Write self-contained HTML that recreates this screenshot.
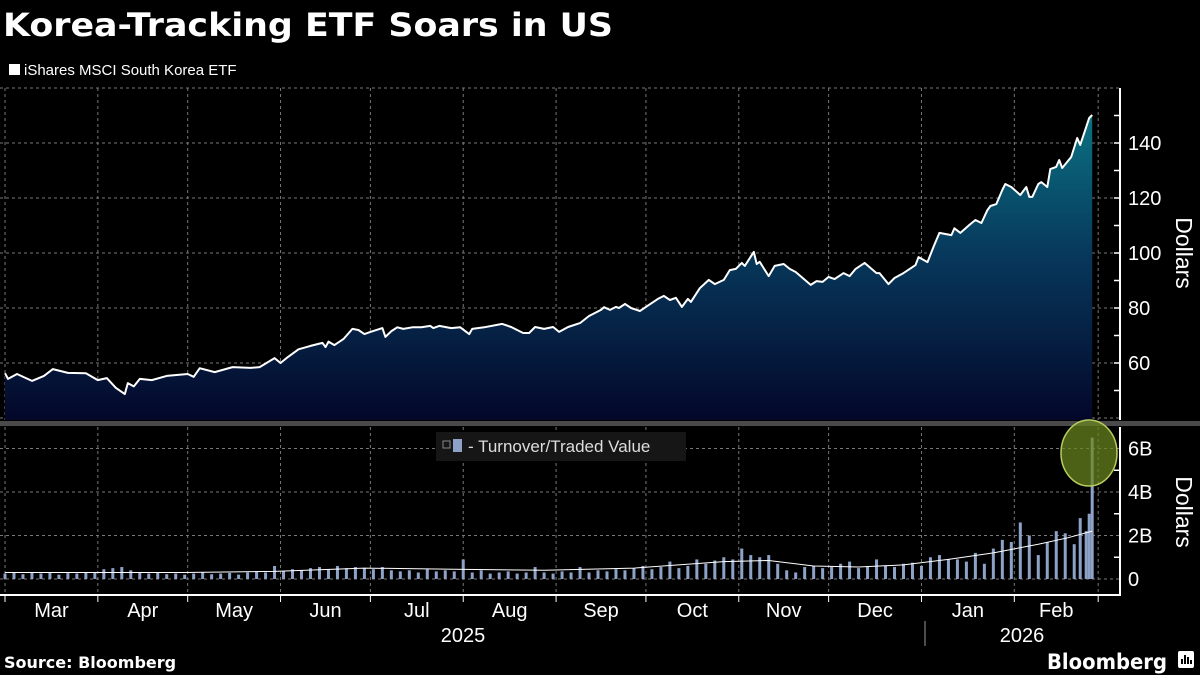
<!DOCTYPE html>
<html><head><meta charset="utf-8">
<style>
html,body{margin:0;padding:0;background:#000;}
svg{display:block;font-family:"Liberation Sans",sans-serif;}
</style></head>
<body>
<svg id="chart" width="1200" height="675" viewBox="0 0 1200 675" xmlns="http://www.w3.org/2000/svg">
<defs>
<linearGradient id="fillGrad" gradientUnits="userSpaceOnUse" x1="0" y1="115" x2="0" y2="420">
<stop offset="0" stop-color="#0b7282"/>
<stop offset="0.45" stop-color="#07395c"/>
<stop offset="1" stop-color="#03072a"/>
</linearGradient>
</defs>
<rect x="0" y="0" width="1200" height="675" fill="#000"/>
<text x="3" y="36" fill="#fff" font-family="DejaVu Sans, sans-serif" font-weight="bold" font-size="32" textLength="610" lengthAdjust="spacingAndGlyphs">Korea-Tracking ETF Soars in US</text>
<rect x="9" y="64" width="11" height="11" fill="#fff"/>
<text x="24" y="75" fill="#fff" font-size="15">iShares MSCI South Korea ETF</text>
<g id="grid"></g>
<g id="price"></g>
<rect x="0" y="421" width="1200" height="5" fill="#4a4a4a"/>
<g id="vol"></g>
<g id="axes"></g>
<rect x="436" y="432" width="250" height="29" fill="#161616"/>
<rect x="443" y="441" width="7" height="7" fill="none" stroke="#888" stroke-width="1"/>
<rect x="453" y="439" width="9" height="13" fill="#8ea2c8"/>
<text x="468" y="452" fill="#ddd" font-size="17">- Turnover/Traded Value</text>
<ellipse cx="1089" cy="453" rx="28" ry="33" fill="rgba(105,135,30,0.72)" stroke="#b8cc60" stroke-width="1.5"/>
<text x="4" y="668" fill="#fff" font-family="DejaVu Sans, sans-serif" font-weight="bold" font-size="16">Source: Bloomberg</text>
<text x="1047" y="669" fill="#fff" font-family="DejaVu Sans, sans-serif" font-weight="bold" font-size="21" textLength="120" lengthAdjust="spacingAndGlyphs">Bloomberg</text>
<rect x="1178" y="651" width="16" height="17" rx="2" fill="#fff"/>
<path d="M1182 664V659M1185 664V655M1188 664V657M1191 664V660" stroke="#000" stroke-width="2"/>
</svg>
<script>
// Days since 2025-03-01
const priceDays=[0,1,4,9,13,16,21,27,31,34,37,40,41,43,45,49,54,61,63,65,70,76,82,85,90,92,94,98,102,106,107,108,110,113,116,118,120,122,126,127,129,131,133,136,139,142,143,145,149,152,155,156,160,166,169,173,175,177,180,183,185,188,192,195,199,200,202,204,205,207,209,212,214,218,220,222,224,226,228,229,232,235,237,240,242,244,246,247,250,251,252,255,257,260,262,264,269,271,273,275,277,280,282,284,287,291,292,295,297,300,304,305,308,310,312,316,317,319,322,324,326,328,329,331,333,334,336,339,341,342,343,345,346,348,349,351,352,353,356,358,359,361,362,363];
const priceValues=[56.3,54.2,56,53.5,55.3,57.8,56.4,56.3,53.8,54.5,51,48.7,52.7,51.5,54.2,53.8,55.3,56,55,58.1,56.7,58.5,58.2,58.5,61.8,60,61.8,65,66.2,67.3,65.8,67.8,66.5,68.7,72.4,72,70.5,71.3,72.7,69.5,71.6,73,72.4,73,73,73.5,72.7,73.5,72.7,73,70.5,72.4,73,74.2,73.1,70.9,70.9,73.1,72.4,73.1,71.3,73.1,74.5,77.1,79.3,80.3,79.3,80.4,80,81.5,80,78.9,80.4,83.3,84.4,82.9,83.7,80.4,83.3,82.2,87.2,90.2,88.7,90.2,93.8,94.2,96.4,95.3,100.4,96,96.8,91.6,95.3,96,94.2,93.1,88.4,89.8,89.5,91.3,90.5,92.7,91.6,94.2,96.4,92.7,92.7,88.7,90.9,92.7,95.6,98.5,96.7,102.2,107.3,106.5,109,107.3,110.2,112,110.9,115.6,117.1,117.8,122.9,125.1,124,121.1,124,120.4,120.4,125.1,125.8,124,130.5,131.3,133.8,130.9,134.9,141.8,139.3,145.8,149.1,150.2];
const priceTicks=[60,80,100,120,140];
const volValues=[.25,.3,.22,.28,.25,.3,.2,.27,.25,.3,
.28,.45,.5,.55,.4,.3,.25,.28,.22,.25,
.2,.25,.3,.22,.25,.28,.2,.3,.35,.3,
.6,.35,.45,.4,.5,.55,.45,.6,.5,.55,
.5,.45,.55,.4,.35,.4,.3,.45,.35,.4,
.35,.9,.3,.4,.25,.3,.35,.25,.3,.55,
.3,.25,.35,.3,.55,.3,.4,.35,.45,.4,
.5,.6,.45,.55,.8,.5,.6,.9,.7,.85,
1.0,.9,1.4,1.1,1.0,1.1,.7,.4,.3,.55,
.6,.5,.55,.7,.8,.5,.6,.9,.6,.55,
.7,.75,.6,1.0,1.1,.9,.9,.8,1.2,.7,
1.4,1.8,1.7,2.6,2.0,1.1,1.7,2.2,2.1,1.6,
2.8,2.2,3.0,6.5];
const volDays=[0,3,6,9,12,15,18,21,24,27,30,33,36,39,42,45,48,51,54,57,60,63,66,69,72,75,78,81,84,87,90,93,96,99,102,105,108,111,114,117,120,123,126,129,132,135,138,141,144,147,150,153,156,159,162,165,168,171,174,177,180,183,186,189,192,195,198,201,204,207,210,213,216,219,222,225,228,231,234,237,240,243,246,249,252,255,258,261,264,267,270,273,276,279,282,285,288,291,294,297,300,303,306,309,312,315,318,321,324,327,330,333,336,339,342,345,348,351,354,357,359,361,362,363];
const maDays=[0,30,60,90,120,150,180,210,240,255,270,285,300,315,330,345,355,363];
const maValues=[.3,.3,.3,.35,.5,.45,.4,.5,.8,.85,.6,.55,.65,.9,1.2,1.6,1.9,2.2];
const volTicks=[0,2,4,6];
const volTickLabels=["0","2B","4B","6B"];
const monthDays=[0,31,61,92,122,153,184,214,245,275,306,337,365];
const monthLabels=["Mar","Apr","May","Jun","Jul","Aug","Sep","Oct","Nov","Dec","Jan","Feb"];

const NS="http://www.w3.org/2000/svg";
const xOf=d=>5+d*2.995;
const yP=v=>143+(140-v)*2.75;
const yV=v=>579-v*21.75;
function mk(tag,attrs,parent){const e=document.createElementNS(NS,tag);for(const k in attrs)e.setAttribute(k,attrs[k]);parent.appendChild(e);return e;}
const grid=document.getElementById('grid'),price=document.getElementById('price'),vol=document.getElementById('vol'),axes=document.getElementById('axes');
const gs={stroke:"#777","stroke-width":1,"stroke-dasharray":"3,3",fill:"none"};

[40,60,80,100,120,140,160].forEach(v=>{
  const l=mk('line',Object.assign({x1:0,x2:1120,y1:yP(v),y2:yP(v)},gs),grid);
  
  
});
[6,4,2,0].forEach(v=>{
  const l=mk('line',Object.assign({x1:0,x2:1120,y1:yV(v),y2:yV(v)},gs),grid);
  
  
});
monthDays.forEach(d=>{
  const l1=mk('line',Object.assign({x1:xOf(d),x2:xOf(d),y1:88,y2:420},gs),grid);
  
  
  const l2=mk('line',Object.assign({x1:xOf(d),x2:xOf(d),y1:427,y2:595},gs),grid);
  
  
});

let pts=priceDays.map((d,i)=>xOf(d).toFixed(1)+","+yP(priceValues[i]).toFixed(1));
const area=mk('path',{d:"M"+xOf(priceDays[0])+",420L"+pts.join("L")+"L"+xOf(priceDays[priceDays.length-1])+",420Z",fill:"url(#fillGrad)"},price);


const line=mk('polyline',{points:pts.join(" "),fill:"none",stroke:"#fff","stroke-width":2,"stroke-linejoin":"round"},price);



volDays.forEach((d,i)=>{
  const y=yV(volValues[i]);
  const b=mk('rect',{x:xOf(d)-1.5,y:y,width:3,height:579-y,fill:"#8ea2c8"},vol);
  
  
});
const ma=mk('polyline',{points:maDays.map((d,i)=>xOf(d).toFixed(1)+","+yV(maValues[i]).toFixed(1)).join(" "),fill:"none",stroke:"#fff","stroke-width":1},vol);



const ax1=mk('line',{x1:1120,x2:1120,y1:88,y2:420,stroke:"#fff","stroke-width":2},axes);


const ax2=mk('line',{x1:1120,x2:1120,y1:427,y2:596,stroke:"#fff","stroke-width":2},axes);


const ax3=mk('line',{x1:0,x2:1121,y1:595,y2:595,stroke:"#fff","stroke-width":2},axes);


for(let v=50;v<=150;v+=10){
  const t=mk('line',{x1:1114,x2:1120,y1:yP(v),y2:yP(v),stroke:"#fff","stroke-width":1.5},axes);
  
  
}
priceTicks.forEach(v=>{
  const t=mk('text',{x:1128,y:yP(v)+7,fill:"#fff","font-size":20},axes);
  t.textContent=v;
  
  
});
[1,3,5].forEach(v=>{
  const t=mk('line',{x1:1114,x2:1120,y1:yV(v),y2:yV(v),stroke:"#fff","stroke-width":1.5},axes);
  
  
});
volTicks.forEach((v,i)=>{
  const t=mk('text',{x:1128,y:yV(v)+7,fill:"#fff","font-size":20},axes);
  t.textContent=volTickLabels[i];
  
  
});
const d1=mk('text',{x:1176,y:253,fill:"#fff","font-size":23,"text-anchor":"middle",transform:"rotate(90 1176 253)"},axes);
d1.textContent="Dollars";


const d2=mk('text',{x:1176,y:512,fill:"#fff","font-size":23,"text-anchor":"middle",transform:"rotate(90 1176 512)"},axes);
d2.textContent="Dollars";


monthDays.forEach(d=>{
  const t=mk('line',{x1:xOf(d),x2:xOf(d),y1:595,y2:602,stroke:"#fff","stroke-width":1},axes);
  
  
});
monthLabels.forEach((m,i)=>{
  const t=mk('text',{x:(xOf(monthDays[i])+xOf(monthDays[i+1]))/2,y:617,fill:"#fff","font-size":20,"text-anchor":"middle"},axes);
  t.textContent=m;
  
  
});
const y1=mk('text',{x:463,y:642,fill:"#fff","font-size":20,"text-anchor":"middle"},axes);
y1.textContent="2025";


const y2=mk('text',{x:1022,y:642,fill:"#fff","font-size":20,"text-anchor":"middle"},axes);
y2.textContent="2026";


const ys=mk('line',{x1:925,x2:925,y1:621,y2:646,stroke:"#999","stroke-width":1},axes);


</script>
</body></html>
